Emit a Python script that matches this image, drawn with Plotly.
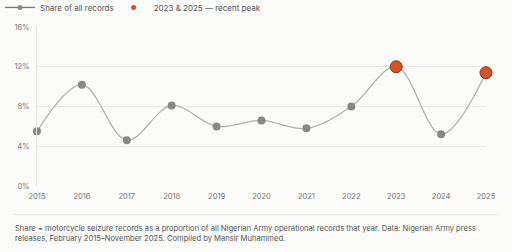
import plotly.graph_objects as go

years = [2015, 2016, 2017, 2018, 2019, 2020, 2021, 2022, 2023, 2024, 2025]
share = [5.5, 10.2, 4.6, 8.1, 6.0, 6.6, 5.8, 8.0, 12.0, 5.2, 11.4]
peak_years = [2023, 2025]
peak_share = [12.0, 11.4]
y_ticks = [0, 4, 8, 12, 16]
y_labels = ["0%", "4%", "8%", "12%", "16%"]

FONT = "Inter, Roboto, sans-serif"
BG = "#fbfbf9"
GRAY_LINE = "#b0b0b0"
GRAY_DOT = "#888888"
RED = "#d4532b"

fig = go.Figure()
fig.add_trace(go.Scatter(
    x=years, y=share, mode="lines+markers", showlegend=False, cliponaxis=False,
    line=dict(color=GRAY_LINE, width=1.3, shape="spline", smoothing=1.0),
    marker=dict(color=GRAY_DOT, size=8),
))
fig.add_trace(go.Scatter(
    x=peak_years, y=peak_share, mode="markers", showlegend=False, cliponaxis=False,
    marker=dict(color=RED, size=12, line=dict(color="#9a2a10", width=1)),
))
# legend entries
fig.add_trace(go.Scatter(
    x=[None], y=[None], mode="lines+markers", name="Share of all records",
    line=dict(color="#777", width=1.3), marker=dict(color=GRAY_DOT, size=5),
    legend="legend",
))
fig.add_trace(go.Scatter(
    x=[None], y=[None], mode="markers", name="2023 & 2025 \u2014 recent peak",
    marker=dict(color=RED, size=5), legend="legend2",
))

leg_common = dict(orientation="h", xref="container", xanchor="left",
                  y=1.123, yref="paper", yanchor="middle",
                  font=dict(size=8, color="#555"),
                  bgcolor="rgba(0,0,0,0)", itemwidth=30)

fig.update_layout(
    width=512, height=252,
    margin=dict(l=37, r=26, t=27, b=66, autoexpand=False),
    paper_bgcolor=BG, plot_bgcolor=BG,
    font=dict(family=FONT, size=7.5, color="#666"),
    showlegend=True,
    legend=dict(x=0.0, **leg_common),
    legend2=dict(x=0.222, **leg_common),
    xaxis=dict(range=[2015, 2025], tickvals=years, ticktext=[str(y) for y in years],
               showgrid=False, zeroline=False, showline=False, ticks="",
               ticklabelstandoff=4,
               tickfont=dict(size=7.5, color="#777"), fixedrange=True),
    yaxis=dict(range=[0, 16], tickvals=y_ticks, ticktext=y_labels,
               showgrid=True, gridcolor="#ebebeb", gridwidth=1, zeroline=False,
               showline=True, linecolor="#e6e6e6", ticks="",
               ticklabelstandoff=5,
               tickfont=dict(size=7.5, color="#777"), fixedrange=True),
)
fig.add_shape(type="line", xref="paper", yref="paper", x0=-0.053, x1=1.025, y0=-0.18, y1=-0.18,
              line=dict(color="#e6e6e6", width=1))
fig.add_annotation(
    xref="paper", yref="paper", x=-0.053, y=-0.225, xanchor="left", yanchor="top",
    align="left", showarrow=False,
    text="Share = motorcycle seizure records as a proportion of all Nigerian Army operational records that year. Data: Nigerian Army press<br>releases, February 2015\u2013November 2025. Compiled by Mansir Muhammed.",
    font=dict(size=7.6, color="#555", family=FONT),
)
fig.write_html("out.html")
